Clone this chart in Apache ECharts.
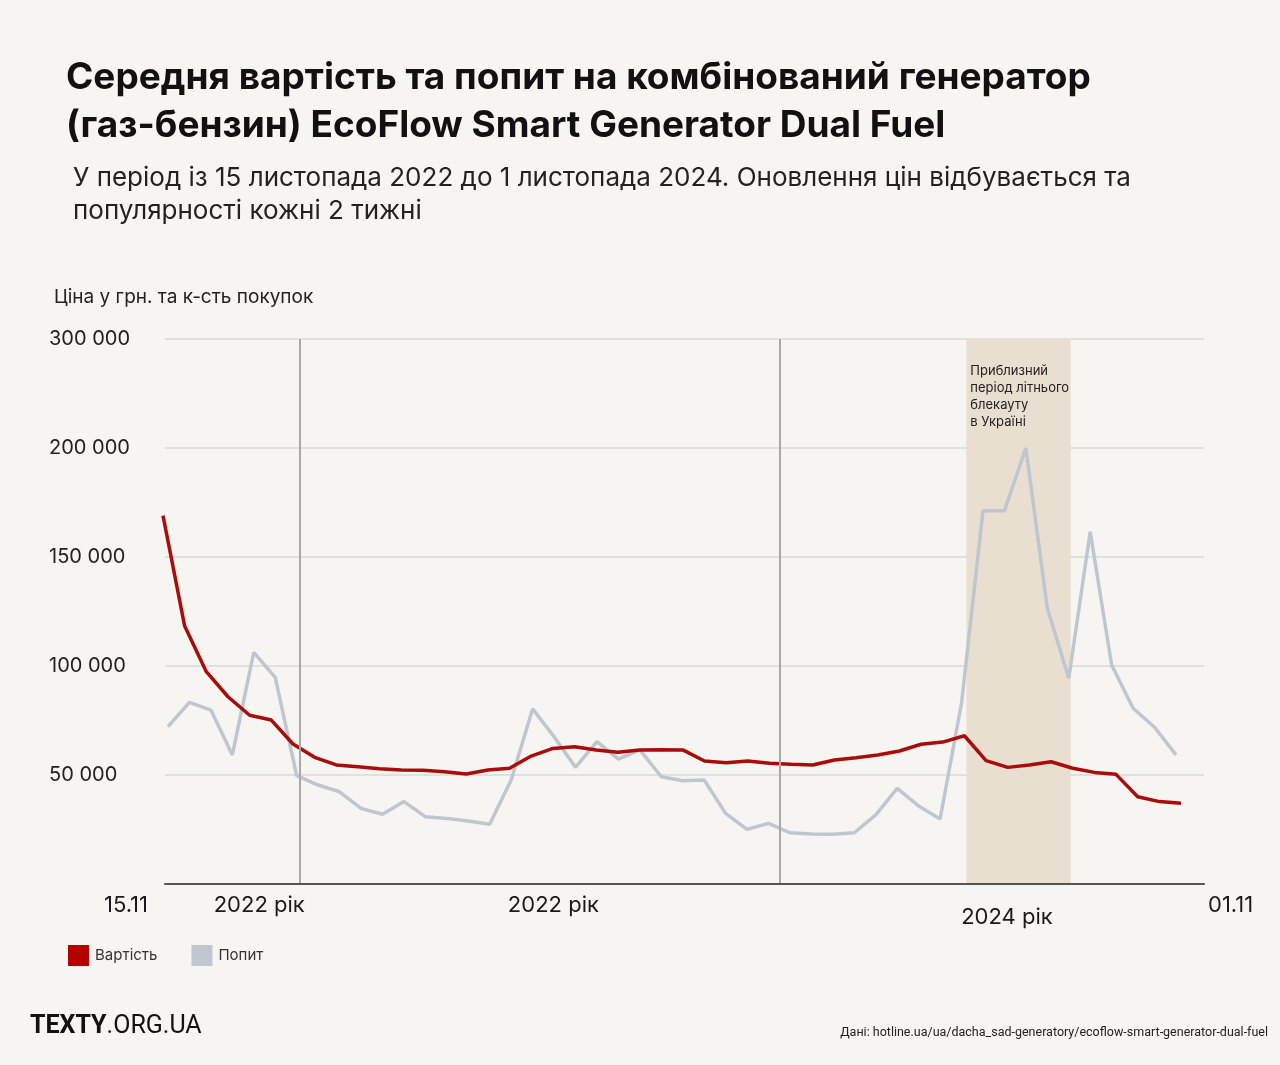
<!DOCTYPE html>
<html>
<head>
<meta charset="utf-8">
<script src="https://cdn.jsdelivr.net/npm/echarts@6/dist/echarts.min.js"></script>
<style>
html,body{margin:0;padding:0;background:#f7f5f1;}
#c{width:1280px;height:1065px;}
</style>
</head>
<body>
<div id="c"></div>
<script>
// ---------- DATA ----------
const titleText = 'Середня вартість та попит на комбінований генератор\n(газ-бензин) EcoFlow Smart Generator Dual Fuel';
const subtitleText = 'У період із 15 листопада 2022 до 1 листопада 2024. Оновлення цін відбувається та\nпопулярності кожні 2 тижні';
const yAxisTitle = 'Ціна у грн. та к-сть покупок';
const sourceText = 'Дані: hotline.ua/ua/dacha_sad-generatory/ecoflow-smart-generator-dual-fuel';
const bandText = 'Приблизний\nперіод літнього\nблекауту\nв Україні';

const dates = [
  '15.11.2022','29.11.2022','13.12.2022','27.12.2022',
  '10.01.2023','24.01.2023','07.02.2023','21.02.2023','07.03.2023','21.03.2023','04.04.2023','18.04.2023',
  '02.05.2023','16.05.2023','30.05.2023','13.06.2023','27.06.2023','11.07.2023','25.07.2023','08.08.2023',
  '22.08.2023','05.09.2023','19.09.2023','03.10.2023','17.10.2023','31.10.2023','14.11.2023','28.11.2023',
  '12.12.2023','26.12.2023',
  '09.01.2024','23.01.2024','06.02.2024','20.02.2024','05.03.2024','19.03.2024','02.04.2024','16.04.2024',
  '30.04.2024','14.05.2024','28.05.2024','11.06.2024','25.06.2024','09.07.2024','23.07.2024','06.08.2024',
  '20.08.2024','03.09.2024'
];

const priceValues = [
  169000,118300,97400,85900,77400,75200,64200,58100,54600,53800,
  52900,52300,52200,51500,50500,52300,53100,58700,62200,63000,
  61500,60400,61500,61600,61500,56400,55600,56400,55400,54900,
  54600,56900,57900,59200,61000,64100,65100,68000,56600,53500,
  54600,56100,53100,51200,50300,40000,37800,37000
];

const demandValues = [
  72200,83300,79800,59200,106300,94800,49700,45400,42300,34700,
  32000,37800,30900,30100,28900,27400,47700,80300,67600,53500,
  65300,57300,61500,49200,47400,47700,32400,25100,27800,23500,
  22900,22800,23500,31700,43900,35800,29800,82900,171200,171200,
  200000,126500,94400,161600,100500,80600,71900,59200
];

const seriesNames = ['Вартість', 'Попит'];

const yTickValues = [50000, 100000, 150000, 200000, 250000];
const yTickLabels = ['50 000', '100 000', '150 000', '200 000', '300 000'];

const periodStart = '2022-11-15';
const periodEnd = '2024-11-01';
const dividerDates = ['2023-02-16', '2024-01-13'];
const blackoutPeriod = ['2024-05-21', '2024-08-01'];

const xLabelDates = ['2022-11-15', '2023-01-19', '2023-08-10', '2024-06-18', '2024-11-01'];
const xLabelTexts = ['15.11', '2022 рік', '2022 рік', '2024 рік', '01.11'];

// ---------- STYLE ----------
const FONT = 'Inter, "Noto Sans", sans-serif';
const RED = '#a80c0c';
const GRAY = '#bfc6cf';
const TOP = 339, BOTTOM = 181;
const t = d => +new Date(d + 'T00:00:00Z');

const chart = echarts.init(document.getElementById('c'), null, {renderer: 'canvas'});

const option = {
  backgroundColor: '#f7f5f1',
  animation: false,
  textStyle: {fontFamily: FONT},
  title: [
    {text: titleText, left: 61, top: 49,
     textStyle: {fontFamily: FONT, fontSize: 37, fontWeight: 'bold', color: '#111', lineHeight: 48}},
    {text: subtitleText, left: 68, top: 157,
     textStyle: {fontFamily: FONT, fontSize: 26, fontWeight: 'normal', color: '#222', lineHeight: 33}},
    {text: yAxisTitle, left: 49, top: 283,
     textStyle: {fontFamily: FONT, fontSize: 19, fontWeight: 'normal', color: '#222'}}
  ],
  legend: {
    left: 63, top: 940, icon: 'rect', itemWidth: 21, itemHeight: 21, itemGap: 34,
    data: seriesNames,
    textStyle: {fontFamily: FONT, fontSize: 15, color: '#333', padding: [0, 0, 0, 1]}
  },
  grid: [
    {left: 163, right: 99, top: TOP, bottom: BOTTOM},
    {left: 168, right: 104, top: TOP, bottom: BOTTOM},
    {left: 165, right: 76, top: TOP, bottom: BOTTOM}
  ],
  xAxis: [
    {type: 'category', gridIndex: 0, data: dates, boundaryGap: false, show: false},
    {type: 'category', gridIndex: 1, data: dates, boundaryGap: false, show: false},
    {type: 'time', gridIndex: 2, min: t(periodStart), max: t(periodEnd), z: 5,
     axisLine: {show: true, lineStyle: {color: '#555', width: 2}},
     axisTick: {show: false}, axisLabel: {show: false}, splitLine: {show: false}}
  ],
  yAxis: [
    {type: 'value', gridIndex: 0, min: 0, max: 250000, show: false},
    {type: 'value', gridIndex: 1, min: 0, max: 250000, show: false},
    {type: 'value', gridIndex: 2, min: 0, max: 250000, interval: 50000,
     axisLine: {show: false}, axisTick: {show: false},
     splitLine: {show: true, lineStyle: {color: '#d8d8d8', width: 1.5}},
     axisLabel: {
       align: 'left', margin: 116, fontFamily: FONT, fontSize: 20, color: '#222',
       formatter: v => { const i = yTickValues.indexOf(v); return i >= 0 ? yTickLabels[i] : ''; }
     }}
  ],
  series: [
    {
      type: 'line', xAxisIndex: 2, yAxisIndex: 2, data: [], silent: true, z: -1,
      markArea: {
        silent: true,
        itemStyle: {color: '#e8dfd1'},
        label: {show: true, position: [4, 24], formatter: bandText,
                fontFamily: FONT, fontSize: 13, lineHeight: 17, color: '#222', align: 'left'},
        data: [[{xAxis: t(blackoutPeriod[0])}, {xAxis: t(blackoutPeriod[1])}]]
      },
      markLine: {
        silent: true, symbol: 'none', label: {show: false},
        lineStyle: {color: '#a8a8a8', width: 2, type: 'solid'},
        data: dividerDates.map(d => ({xAxis: t(d)}))
      }
    },
    {
      name: seriesNames[1], type: 'line', xAxisIndex: 1, yAxisIndex: 1,
      data: demandValues, symbol: 'none', z: 3,
      lineStyle: {color: GRAY, width: 3.5}, itemStyle: {color: '#c0c7d0'}
    },
    {
      name: seriesNames[0], type: 'line', xAxisIndex: 0, yAxisIndex: 0,
      data: priceValues, symbol: 'none', z: 4,
      lineStyle: {color: RED, width: 3.5}, itemStyle: {color: '#b30000'}
    }
  ]
};

chart.setOption(option);

// x-axis labels placed via the time axis scale
const labelAlign = ['right', 'center', 'center', 'center', 'left'];
const labelDx = [-17, 0, 0, 0, 4];
const labelDy = [21, 21, 21, 33, 21];
const axisY = chart.convertToPixel({yAxisIndex: 2}, 0);
const xLabelGraphics = xLabelTexts.map((txt, i) => {
  const px = chart.convertToPixel({xAxisIndex: 2}, t(xLabelDates[i]));
  return {
    type: 'text', x: px + labelDx[i], y: axisY + labelDy[i], silent: true,
    style: {text: txt, fontFamily: FONT, fontSize: 22, fill: '#1a1a1a',
            align: labelAlign[i], verticalAlign: 'middle'}
  };
});

chart.setOption({
  graphic: xLabelGraphics.concat([
    {type: 'text', left: 30, top: 1014, silent: true,
     style: {text: '{b|TEXTY}{r|.ORG.UA}',
             rich: {b: {fontFamily: 'Roboto, sans-serif', fontSize: 25, fontWeight: 'bold', fill: '#111'},
                    r: {fontFamily: 'Roboto, sans-serif', fontSize: 25, fontWeight: 'normal', fill: '#111'}}}},
    {type: 'text', right: 12, top: 1026, silent: true,
     style: {text: sourceText, fontFamily: 'Roboto, sans-serif', fontSize: 12.5, fill: '#222'}}
  ])
});
</script>
</body>
</html>
